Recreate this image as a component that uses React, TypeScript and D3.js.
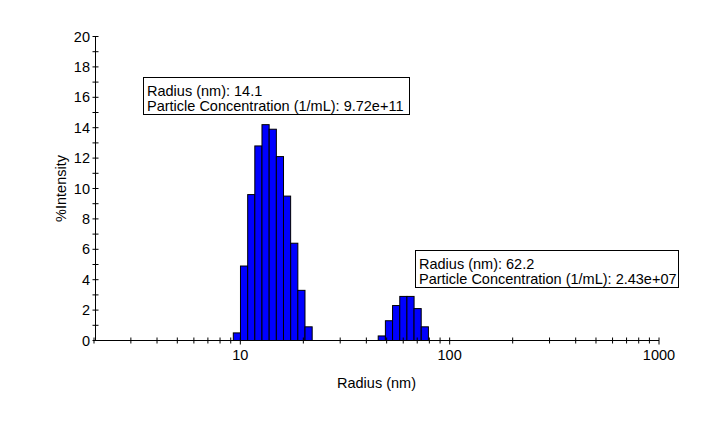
import * as d3 from 'd3'

// bin centres (nm) and % intensity
const radiusPeak1 = [9.63, 10.42, 11.28, 12.2, 13.2, 14.29, 15.46, 16.72, 18.1, 19.58, 21.19]
const intensityPeak1 = [0.5, 4.9, 9.6, 12.8, 14.2, 13.9, 12.1, 9.5, 6.4, 3.3, 0.9]
const radiusPeak2 = [47.4, 51.3, 55.5, 60.1, 65.0, 70.3, 76.1]
const intensityPeak2 = [0.3, 1.3, 2.3, 2.9, 2.9, 2.1, 0.9]
const binRatio = 1.082

const peakRadius = ['14.1', '62.2']
const peakConcentration = ['9.72e+11', '2.43e+07']

const xMajorTicks = [10, 100, 1000]
const yMajorTicks = [0, 2, 4, 6, 8, 10, 12, 14, 16, 18, 20]

const font = 'Arial, "Liberation Sans", sans-serif'

export default function App() {
  const width = 717
  const height = 429
  const x = d3.scaleLog().domain([2, 1000]).range([94, 659])
  const y = d3.scaleLinear().domain([0, 20]).range([340.5, 36.5])
  const half = Math.sqrt(binRatio)

  const bars = [
    ...radiusPeak1.map((r, i) => ({ r, v: intensityPeak1[i] })),
    ...radiusPeak2.map((r, i) => ({ r, v: intensityPeak2[i] })),
  ]

  const xMinor: number[] = []
  for (const decade of [1, 10, 100]) {
    for (let k = 2; k <= 9; k++) {
      const t = decade * k
      if (t >= 2 && t < 1000 && !xMajorTicks.includes(t)) xMinor.push(t)
    }
  }
  const yAll = d3.range(0, 21)

  const boxes = [
    { x: 143.5, y: 77.5, w: 266, h: 37 },
    { x: 415.5, y: 250.5, w: 263, h: 37 },
  ]

  return (
    <svg
      width={width}
      height={height}
      style={{ position: 'absolute', left: 0, top: 0, background: '#fff' }}
      fontFamily={font}
    >
      <rect width={width} height={height} fill="#fff" />
      <g fill="#0000ff" stroke="#000" strokeWidth={1}>
        {bars.map((b, i) => (
          <rect
            key={i}
            x={x(b.r / half)}
            y={y(b.v)}
            width={x(b.r * half) - x(b.r / half)}
            height={y(0) - y(b.v)}
          />
        ))}
      </g>

      {/* y axis */}
      <g stroke="#000" strokeWidth={1}>
        <line x1={95.5} x2={95.5} y1={y(20)} y2={y(0)} />
        {yAll.map((t) => (
          <line key={t} x1={92.5} x2={98.5} y1={y(t)} y2={y(t)} />
        ))}
      </g>
      <g fontSize={14.5} textAnchor="end" fill="#000">
        {yMajorTicks.map((t) => (
          <text key={t} x={90} y={y(t) + 5}>
            {t}
          </text>
        ))}
      </g>

      {/* x axis */}
      <g stroke="#000" strokeWidth={1}>
        <line x1={x(2)} x2={x(1000)} y1={y(0)} y2={y(0)} />
        {xMinor.map((t) => (
          <line key={t} x1={x(t)} x2={x(t)} y1={y(0) - 3} y2={y(0) + 3} />
        ))}
        {xMajorTicks.map((t) => (
          <line key={t} x1={x(t)} x2={x(t)} y1={y(0) - 3} y2={y(0) + 4} />
        ))}
      </g>
      <g fontSize={14.5} textAnchor="middle" fill="#000">
        {xMajorTicks.map((t) => (
          <text key={t} x={x(t)} y={359.5}>
            {t}
          </text>
        ))}
      </g>

      <text x={(x(2) + x(1000)) / 2} y={387.5} fontSize={14.5} textAnchor="middle">
        Radius (nm)
      </text>
      <text
        transform={`translate(65.5,${(y(0) + y(20)) / 2}) rotate(-90)`}
        fontSize={14.5}
        textAnchor="middle"
      >
        %Intensity
      </text>

      {boxes.map((b, i) => (
        <g key={i}>
          <rect x={b.x} y={b.y} width={b.w} height={b.h} fill="#fff" stroke="#000" />
          <text x={b.x + 3.5} y={b.y + 18} fontSize={14.5}>
            Radius (nm): {peakRadius[i]}
          </text>
          <text x={b.x + 3.5} y={b.y + 33.5} fontSize={14.5}>
            Particle Concentration (1/mL): {peakConcentration[i]}
          </text>
        </g>
      ))}
    </svg>
  )
}
